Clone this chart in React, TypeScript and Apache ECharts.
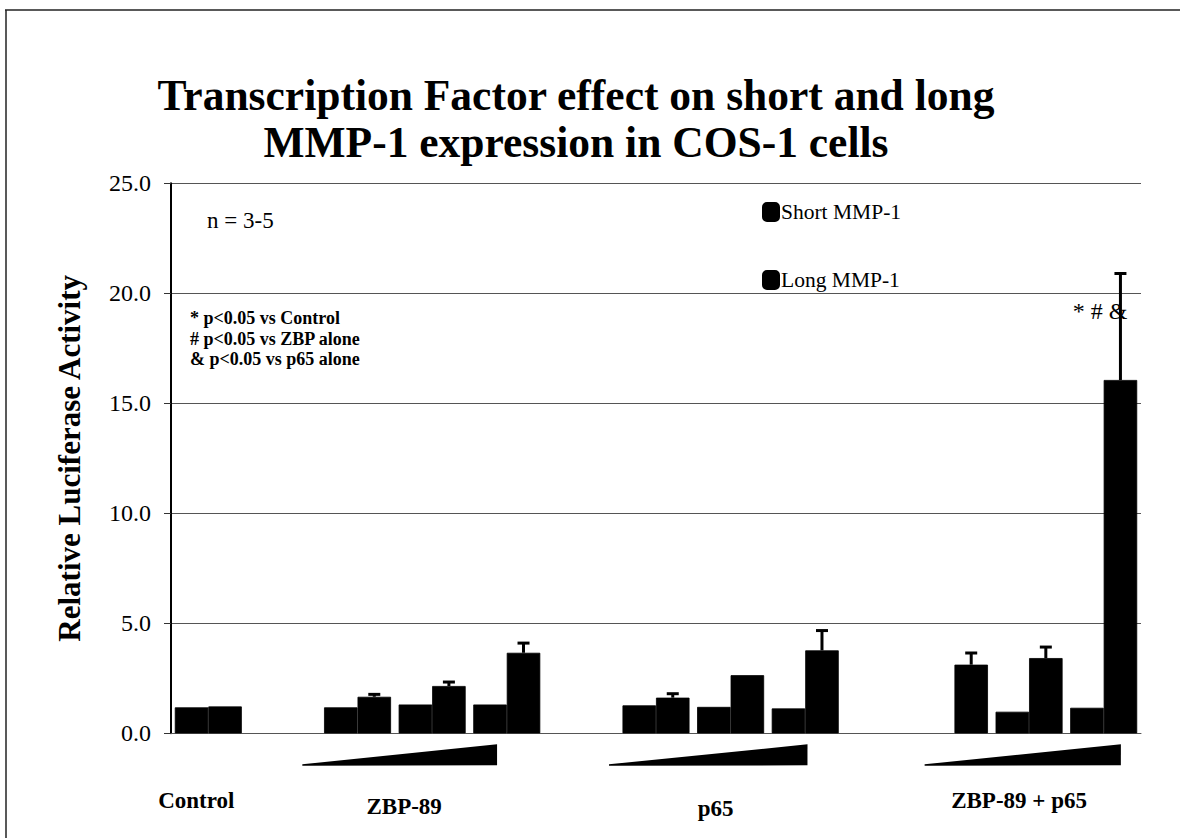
import React, { useEffect, useRef } from "react";
import * as echarts from "echarts";

// ---- data ----
const categories = [
  "Control", "", "ZBP-89 1", "ZBP-89 2", "ZBP-89 3", "",
  "p65 1", "p65 2", "p65 3", "", "ZBP-89 + p65 1", "ZBP-89 + p65 2", "ZBP-89 + p65 3",
];
const shortMMP1: (number | null)[] = [1.18, null, 1.18, 1.31, 1.31, null, 1.27, 1.2, 1.13, null, null, 0.98, 1.16];
const longMMP1: (number | null)[] = [1.22, null, 1.66, 2.15, 3.66, null, 1.62, 2.64, 3.77, null, 3.12, 3.42, 16.06];
const longUpper: (number | null)[] = [null, null, 1.77, 2.33, 4.1, null, 1.8, null, 4.67, null, 3.65, 3.92, 20.9];
const yTicks = [0, 5, 10, 15, 20, 25];
const groupLabels = ["Control", "ZBP-89", "p65", "ZBP-89 + p65"];
const groupLabelIndex = [0, 3, 7, 11];
const wedgeGroups = [
  [2, 4],
  [6, 8],
  [10, 12],
];
const title = "Transcription Factor effect on short and long\nMMP-1 expression in COS-1 cells";
const statsNote = "* p<0.05 vs Control\n# p<0.05 vs ZBP alone\n& p<0.05 vs p65 alone";
const sigMark = "* # &";
const nNote = "n = 3-5";

// ---- styles / layout ----
const BAR_W = 33.5;
const SERIF = "'Liberation Serif', 'DejaVu Serif', serif";
const WEDGE_OFFSETS = [
  [-0.74, -0.13],
  [-0.63, 0.03],
  [-0.4, 0.23],
];
const LABEL_SHIFT = [
  [-12, 800],
  [-28, 806],
  [-15, 808],
  [-10, 800],
];

export default function App() {
  const ref = useRef<HTMLDivElement>(null);
  useEffect(() => {
    document.body.style.margin = "0";
    const chart = echarts.init(ref.current!, null, { renderer: "svg" });
    const errData = longMMP1
      .map((v, i) => (longUpper[i] != null && v != null ? [i, v, longUpper[i]] : null))
      .filter((d) => d) as number[][];
    const wedgeData = wedgeGroups.map((g, i) => [g[0], g[1], i]);

    const baseGraphics: any[] = [
      { type: "line", shape: { x1: 5, y1: 10, x2: 1180, y2: 10 }, style: { stroke: "#222", lineWidth: 1.5 } },
      { type: "line", shape: { x1: 6, y1: 10, x2: 6, y2: 838 }, style: { stroke: "#222", lineWidth: 1.5 } },
      {
        type: "text",
        x: 207,
        y: 220,
        style: { text: nNote, fontFamily: SERIF, fontSize: 23, fill: "#000", verticalAlign: "middle" },
      },
      {
        type: "text",
        x: 190,
        y: 308,
        style: {
          text: statsNote,
          fontFamily: SERIF,
          fontSize: 18,
          fontWeight: "bold",
          lineHeight: 20.5,
          fill: "#000",
          verticalAlign: "top",
        },
      },
      {
        type: "text",
        x: 1100,
        y: 311,
        style: {
          text: sigMark,
          fontFamily: SERIF,
          fontSize: 24,
          fill: "#000",
          align: "center",
          verticalAlign: "middle",
        },
      },
    ];

    chart.setOption({
      animation: false,
      backgroundColor: "#fff",
      title: {
        text: title,
        left: 571,
        textAlign: "center",
        top: 66,
        textStyle: {
          fontFamily: SERIF,
          fontWeight: "bold",
          fontSize: 43.5,
          lineHeight: 47,
          color: "#000",
        },
      },
      legend: {
        data: ["Short MMP-1", "Long MMP-1"],
        orient: "vertical",
        left: 757,
        top: 196,
        itemGap: 46,
        itemWidth: 16,
        itemHeight: 18,
        icon: "roundRect",
        textStyle: { fontFamily: SERIF, fontSize: 21.5, color: "#000", padding: [0, 0, 0, -3] },
      },
      grid: { left: 171, right: 39, top: 183.3, bottom: 104.7 },
      xAxis: {
        type: "category",
        data: categories,
        axisLine: { lineStyle: { color: "#555", width: 1 } },
        axisTick: { show: false },
        axisLabel: { show: false },
      },
      yAxis: {
        type: "value",
        min: yTicks[0],
        max: yTicks[yTicks.length - 1],
        interval: 5,
        name: "Relative Luciferase Activity",
        nameLocation: "middle",
        nameGap: 86,
        nameTextStyle: { fontFamily: SERIF, fontWeight: "bold", fontSize: 31, color: "#000" },
        axisLine: { show: true, lineStyle: { color: "#000", width: 2 } },
        axisTick: { show: true, length: 7, lineStyle: { color: "#333" } },
        axisLabel: {
          margin: 20,
          fontFamily: SERIF,
          fontSize: 24,
          color: "#000",
          formatter: (v: number) => v.toFixed(1),
        },
        splitLine: { show: true, lineStyle: { color: "#555", width: 1 } },
      },
      graphic: baseGraphics,
      series: [
        {
          name: "Short MMP-1",
          type: "bar",
          data: shortMMP1,
          barWidth: BAR_W,
          barGap: "0%",
          itemStyle: { color: "#000", borderColor: "#000", borderWidth: 0.8 },
        },
        {
          name: "Long MMP-1",
          type: "bar",
          data: longMMP1,
          barWidth: BAR_W,
          barGap: "0%",
          itemStyle: { color: "#000", borderColor: "#000", borderWidth: 0.8 },
        },
        {
          name: "err",
          type: "custom",
          data: errData,
          z: 5,
          renderItem: (params: any, api: any) => {
            const i = api.value(0);
            const base = api.coord([i, api.value(1)]);
            const top = api.coord([i, api.value(2)]);
            const x = base[0] + BAR_W / 2;
            return {
              type: "group",
              children: [
                { type: "line", shape: { x1: x, y1: base[1], x2: x, y2: top[1] }, style: { stroke: "#000", lineWidth: 3 } },
                { type: "line", shape: { x1: x - 6, y1: top[1], x2: x + 6, y2: top[1] }, style: { stroke: "#000", lineWidth: 3 } },
              ],
            };
          },
        },
        {
          name: "wedge",
          type: "custom",
          data: wedgeData,
          clip: false,
          renderItem: (params: any, api: any) => {
            const a = api.value(0);
            const b = api.value(1);
            const k = api.value(2);
            const band = api.size([1, 0])[0];
            const p0 = api.coord([a, 0]);
            const p1 = api.coord([b, 0]);
            const xl = p0[0] + WEDGE_OFFSETS[k][0] * band;
            const xr = p1[0] + WEDGE_OFFSETS[k][1] * band;
            const y0 = p0[1];
            return {
              type: "polygon",
              shape: { points: [[xl, y0 + 31], [xr, y0 + 11], [xr, y0 + 32], [xl, y0 + 32.5]] },
              style: { fill: "#000" },
            };
          },
        },
      ],
    });

    const labelGraphics = groupLabels.map((t, j) => {
      const cx = chart.convertToPixel({ xAxisIndex: 0 }, groupLabelIndex[j]) as number;
      return {
        type: "text",
        x: cx + LABEL_SHIFT[j][0],
        y: LABEL_SHIFT[j][1],
        style: {
          text: t,
          fontFamily: SERIF,
          fontSize: 23,
          fontWeight: "bold",
          fill: "#000",
          align: "center",
          verticalAlign: "middle",
        },
      };
    });
    chart.setOption({ graphic: [...baseGraphics, ...labelGraphics] }, { replaceMerge: ["graphic"] });

    return () => chart.dispose();
  }, []);
  return <div ref={ref} style={{ width: 1180, height: 838 }} />;
}
